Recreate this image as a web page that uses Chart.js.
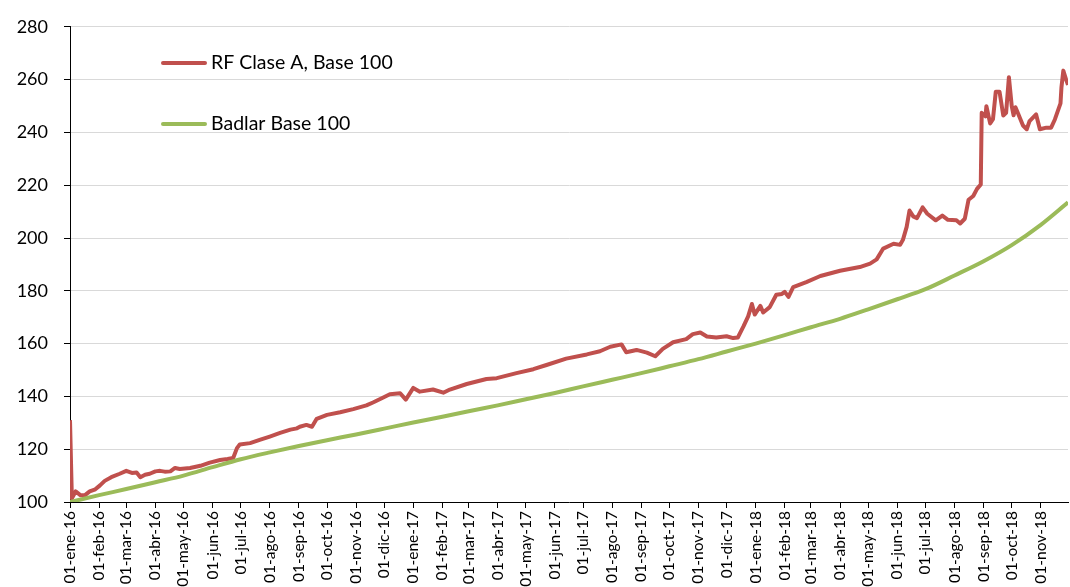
<!DOCTYPE html>
<html><head><meta charset="utf-8">
<script src="https://cdn.jsdelivr.net/npm/chart.js@4.4.1/dist/chart.umd.min.js"></script>
<style>html,body{margin:0;padding:0;background:#fff;} canvas{display:block;}</style>
</head><body>
<canvas id="c" width="1070" height="587"></canvas>
<script>
const seriesNames = ["RF Clase A, Base 100", "Badlar Base 100"];
const seriesColors = ["#C0504D", "#9BBB59"];
const yTicks = [100,120,140,160,180,200,220,240,260,280];
const tickLabels = [
 "01-ene-16","01-feb-16","01-mar-16","01-abr-16","01-may-16","01-jun-16","01-jul-16","01-ago-16","01-sep-16","01-oct-16","01-nov-16","01-dic-16",
 "01-ene-17","01-feb-17","01-mar-17","01-abr-17","01-may-17","01-jun-17","01-jul-17","01-ago-17","01-sep-17","01-oct-17","01-nov-17","01-dic-17",
 "01-ene-18","01-feb-18","01-mar-18","01-abr-18","01-may-18","01-jun-18","01-jul-18","01-ago-18","01-sep-18","01-oct-18","01-nov-18"];

const redDates = [
 "2016-01-01","2016-01-03","2016-01-07","2016-01-12","2016-01-17","2016-01-22","2016-01-28","2016-02-02","2016-02-07","2016-02-14","2016-02-23",
 "2016-03-01","2016-03-07","2016-03-12","2016-03-16","2016-03-21","2016-03-26","2016-04-01","2016-04-06","2016-04-11","2016-04-17","2016-04-22","2016-04-27",
 "2016-05-08","2016-05-19","2016-05-29","2016-06-09","2016-06-17","2016-06-23","2016-06-27","2016-06-30","2016-07-11","2016-07-22","2016-08-01","2016-08-12",
 "2016-08-23","2016-08-30","2016-09-02","2016-09-09","2016-09-15","2016-09-20","2016-10-01","2016-10-15","2016-10-29","2016-11-12","2016-11-19","2016-11-30",
 "2016-12-07","2016-12-18","2016-12-24","2017-01-01","2017-01-08","2017-01-22","2017-02-02","2017-02-09","2017-02-27","2017-03-20","2017-03-31","2017-04-21",
 "2017-05-09","2017-05-23","2017-06-13","2017-07-05","2017-07-19","2017-07-30","2017-08-11","2017-08-16","2017-08-27","2017-09-07","2017-09-16","2017-09-24",
 "2017-10-05","2017-10-19","2017-10-26","2017-11-03","2017-11-10","2017-11-20","2017-12-01","2017-12-08","2017-12-13","2017-12-19","2017-12-24","2017-12-28",
 "2017-12-31","2018-01-06","2018-01-09","2018-01-16","2018-01-23","2018-01-29","2018-02-01","2018-02-05","2018-02-10","2018-02-24","2018-03-11","2018-04-01",
 "2018-04-22","2018-05-03","2018-05-10","2018-05-17","2018-05-28","2018-06-04","2018-06-07","2018-06-11","2018-06-14","2018-06-18","2018-06-22","2018-06-28",
 "2018-07-03","2018-07-12","2018-07-19","2018-07-25","2018-08-03","2018-08-07","2018-08-12","2018-08-16","2018-08-21","2018-08-25","2018-08-29","2018-08-30",
 "2018-09-03","2018-09-04","2018-09-08","2018-09-11","2018-09-14","2018-09-18","2018-09-22","2018-09-25","2018-09-28","2018-10-01","2018-10-03","2018-10-05",
 "2018-10-08","2018-10-13","2018-10-17","2018-10-20","2018-10-27","2018-10-31","2018-11-07","2018-11-12","2018-11-16","2018-11-19","2018-11-22","2018-11-23",
 "2018-11-25","2018-11-28","2018-11-30"];
const redValues = [
 131,101.4,104,102.6,102.6,104,104.8,106.3,108,109.4,110.7,
 111.8,111,111.2,109.4,110.3,110.7,111.6,111.8,111.5,111.6,112.9,112.5,
 112.9,113.7,114.9,115.9,116.3,116.7,120.4,121.8,122.3,123.6,124.8,126.2,
 127.4,127.9,128.5,129.2,128.5,131.5,133,134,135.2,136.6,137.7,139.6,
 140.8,141.2,138.8,143.2,141.8,142.6,141.4,142.6,144.7,146.6,146.9,148.8,
 150.3,151.9,154.3,155.9,157.1,158.8,159.7,156.7,157.6,156.6,155.2,158,
 160.5,161.7,163.6,164.2,162.7,162.3,162.8,162.1,162.3,166.5,170.3,175,
 171,174.3,171.8,173.8,178.5,178.8,179.6,177.7,181.4,183.3,185.6,187.6,
 189,190.3,191.9,196,197.8,197.4,199.3,204.2,210.4,208.2,207.5,211.6,
 209.2,206.7,208.5,206.9,206.7,205.5,207.3,214.5,215.9,218.6,220.3,247.4,
 246.1,249.9,243.4,245,255.4,255.4,246.4,247.4,260.9,250,246.5,249.5,
 247,242.6,241.2,244.3,246.8,241.2,241.8,241.8,244.9,248,251,257,
 263.4,260,258];

const greenDates = [
 "2016-01-01","2016-02-01","2016-03-01","2016-04-01","2016-05-01","2016-06-01","2016-07-01","2016-08-01","2016-09-01","2016-10-01","2016-11-01","2016-12-01",
 "2017-01-01","2017-02-01","2017-03-01","2017-04-01","2017-05-01","2017-06-01","2017-07-01","2017-08-01","2017-09-01","2017-10-01","2017-11-01","2017-12-01",
 "2018-01-01","2018-02-01","2018-03-01","2018-04-01","2018-05-01","2018-06-01","2018-07-01","2018-08-01","2018-09-01","2018-10-01","2018-11-01","2018-11-30"];
const greenValues = [
 100,102.6,104.9,107.5,110,113.2,116.2,118.8,121.2,123.4,125.6,127.8,
 130.1,132.3,134.4,136.6,138.9,141.3,143.8,146.3,148.8,151.4,154.1,157,
 160,163.2,166.2,169.4,173,176.8,180.6,185.8,191.2,197.3,205,213.5];

const MONTHS = {ene:0,feb:1,mar:2,abr:3,may:4,jun:5,jul:6,ago:7,sep:8,oct:9,nov:10,dic:11};
const START = Date.UTC(2016,0,1);
function dayOf(iso){const p=iso.split('-').map(Number);return Math.round((Date.UTC(p[0],p[1]-1,p[2])-START)/86400000);}
function dayOfLabel(l){const p=l.split('-');return Math.round((Date.UTC(2000+Number(p[2]),MONTHS[p[1]],Number(p[0]))-START)/86400000);}
const tickDays = tickLabels.map(dayOfLabel);
const labelByDay = {}; tickLabels.forEach((l,i)=>labelByDay[tickDays[i]]=l);
const xMax = dayOf(redDates[redDates.length-1]);

const redData = redDates.map((d,i)=>({x:dayOf(d), y:redValues[i]}));
const greenData = greenDates.map((d,i)=>({x:dayOf(d), y:greenValues[i]}));

const FONT = "Lato";

const insideLegend = {
  id:'insideLegend',
  afterDraw(chart, args, opts){
    const ctx = chart.ctx;
    ctx.save();
    opts.items.forEach((it)=>{
      const ds = chart.data.datasets[it.ds];
      ctx.strokeStyle = ds.borderColor;
      ctx.lineWidth = 4;
      ctx.lineCap = 'round';
      ctx.beginPath();
      ctx.moveTo(it.x, it.y); ctx.lineTo(it.x + 42, it.y); ctx.stroke();
      ctx.fillStyle = '#000';
      ctx.font = '19.5px ' + FONT;
      ctx.textBaseline = 'middle';
      ctx.textAlign = 'left';
      ctx.fillText(ds.label, it.x + 48, it.y);
    });
    ctx.restore();
  }
};

new Chart(document.getElementById('c'), {
  type:'line',
  data:{datasets:[
    {label:seriesNames[0], data:redData, borderColor:seriesColors[0], backgroundColor:seriesColors[0], borderWidth:4, pointRadius:0, tension:0, order:1, borderJoinStyle:'round'},
    {label:seriesNames[1], data:greenData, borderColor:seriesColors[1], backgroundColor:seriesColors[1], borderWidth:4, pointRadius:0, tension:0, cubicInterpolationMode:'monotone', order:0}
  ]},
  options:{
    responsive:false, animation:false, devicePixelRatio:1,
    layout:{padding:{top:4,right:2,left:0,bottom:0}},
    plugins:{legend:{display:false}, tooltip:{enabled:false},
      insideLegend:{items:[{ds:0,x:163,y:63},{ds:1,x:163,y:124}]}},
    scales:{
      x:{type:'linear', min:0, max:xMax,
        afterBuildTicks(s){ s.ticks = tickDays.map(v=>({value:v})); },
        afterFit(s){ s.height = 85; },
        ticks:{autoSkip:false, minRotation:90, maxRotation:90, padding:3, color:'#000',
          font:{family:FONT, size:15.5}, callback:(v)=>labelByDay[v]},
        grid:{drawOnChartArea:false, drawTicks:true, tickLength:6, tickColor:'#000', tickWidth:1},
        border:{display:true, color:'#000', width:1}
      },
      y:{type:'linear', min:100, max:280,
        afterBuildTicks(s){ s.ticks = yTicks.map(v=>({value:v})); },
        afterFit(s){ s.width = 70; },
        ticks:{padding:16, color:'#000', font:{family:FONT, size:18}},
        grid:{color:'#D9D9D9', lineWidth:1, drawTicks:true, tickLength:6, tickColor:'#000'},
        border:{display:true, color:'#000', width:1}
      }
    }
  },
  plugins:[insideLegend]
});
</script>
</body></html>
